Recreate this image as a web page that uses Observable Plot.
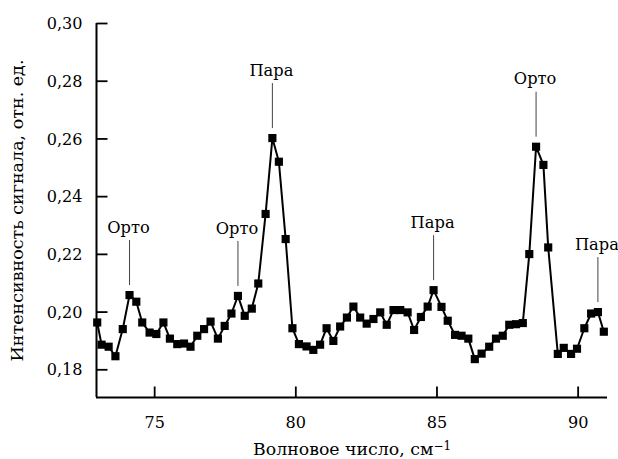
<!DOCTYPE html>
<html><head><meta charset="utf-8">
<script src="https://cdn.jsdelivr.net/npm/d3@7"></script>
<script src="https://cdn.jsdelivr.net/npm/@observablehq/plot@0.6"></script>
<style>
body{margin:0;background:#fff;}
#chart svg{display:block;}
#chart svg text {font-family: "DejaVu Serif", serif;}
</style></head><body><div id="chart"></div>
<script>
const wavenumber = [72.965,73.12,73.37,73.61,73.87,74.11,74.35,74.56,74.82,75.06,
  75.31,75.54,75.80,76.04,76.27,76.51,76.75,76.98,77.24,77.48,
  77.72,77.95,78.19,78.44,78.67,78.93,79.17,79.40,79.64,79.88,
  80.11,80.38,80.62,80.86,81.09,81.33,81.57,81.81,82.04,82.28,
  82.51,82.75,82.99,83.22,83.46,83.70,83.96,84.19,84.43,84.67,
  84.88,85.16,85.38,85.64,85.87,86.11,86.34,86.58,86.85,87.09,
  87.33,87.56,87.80,88.04,88.27,88.51,88.77,88.94,89.28,89.49,
  89.75,89.96,90.22,90.46,90.70,90.91];
const intensity = [0.1964,0.1887,0.1880,0.1847,0.1941,0.2059,0.2036,0.1964,0.1929,0.1924,
  0.1964,0.1908,0.1889,0.1891,0.1880,0.1918,0.1941,0.1967,0.1908,0.1952,
  0.1995,0.2056,0.1987,0.2012,0.2099,0.2340,0.2603,0.2521,0.2253,0.1944,
  0.1889,0.1881,0.1869,0.1887,0.1944,0.1900,0.1950,0.1981,0.2019,0.1981,
  0.1960,0.1976,0.1999,0.1956,0.2007,0.2007,0.1999,0.1938,0.1983,0.2019,
  0.2076,0.2018,0.1970,0.1921,0.1918,0.1908,0.1837,0.1856,0.1880,0.1908,
  0.1918,0.1956,0.1958,0.1962,0.2201,0.2573,0.2510,0.2224,0.1855,0.1876,
  0.1855,0.1873,0.1944,0.1995,0.2000,0.1932];
const peakIndex = [5, 21, 26, 50, 65, 74];
const peakLabel = ["Орто", "Орто", "Пара", "Пара", "Орто", "Пара"];
const xTicks = [75, 80, 85, 90];
const yTicks = [0.18, 0.20, 0.22, 0.24, 0.26, 0.28, 0.30];
const yTickLabels = ["0,18", "0,20", "0,22", "0,24", "0,26", "0,28", "0,30"];
const xTitle = "Волновое число, см";
const xTitleSup = "−1";
const yTitle = "Интенсивность сигнала, отн. ед.";

const xDomain = [72.94, 91.04];
const yDomain = [0.1704, 0.30];

const data = wavenumber.map((x, i) => ({x, y: intensity[i]}));
const ann = peakIndex.map((k, i) => ({x: wavenumber[k], y: intensity[k], label: peakLabel[i]}));
const lineShape = {draw(ctx, l) { ctx.moveTo(0, 0); ctx.lineTo(0, -l); }};

const chart = Plot.plot({
  width: 618, height: 459,
  marginLeft: 96, marginRight: 11, marginTop: 23, marginBottom: 62,
  style: "font-size: 17.5px; color: black; background: white;",
  x: {domain: xDomain},
  y: {domain: yDomain},
  marks: [
    Plot.axisX(xTicks, {tickSize: 0, tickPadding: 18, label: null}),
    Plot.axisY(yTicks, {tickSize: 0, tickPadding: 14, label: null, tickFormat: d => yTickLabels[yTicks.indexOf(d)]}),
    Plot.ruleX([xDomain[0]], {stroke: "black", strokeWidth: 2}),
    Plot.ruleY([yDomain[0]], {stroke: "black", strokeWidth: 2}),
    Plot.vector(yTicks, {y: d => d, frameAnchor: "left", rotate: 90, length: 11, anchor: "start", shape: lineShape, stroke: "black", strokeWidth: 1.8, fill: "none", strokeLinecap: "butt"}),
    Plot.vector(xTicks, {x: d => d, frameAnchor: "bottom", rotate: 0, length: 11, anchor: "start", shape: lineShape, stroke: "black", strokeWidth: 1.8, fill: "none", strokeLinecap: "butt"}),
    Plot.line(data, {x: "x", y: "y", stroke: "black", strokeWidth: 2}),
    Plot.dot(data, {x: "x", y: "y", symbol: "square", r: 4.6, fill: "black", stroke: "none"}),
    Plot.vector(ann, {x: "x", y: "y", length: 45, anchor: "start", dy: -10, shape: lineShape, stroke: "#444", strokeWidth: 1, fill: "none", strokeLinecap: "butt"}),
    Plot.text(ann, {x: "x", y: "y", text: "label", dy: -68, dx: -1, lineAnchor: "middle", textAnchor: "middle", fill: "black"}),
    Plot.text([xTitle], {text: d => d, frameAnchor: "bottom", dy: 52, lineAnchor: "middle", textAnchor: "middle", fill: "black"}),
    Plot.text([yTitle], {text: d => d, frameAnchor: "left", rotate: -90, dx: -79, lineAnchor: "middle", textAnchor: "middle", fill: "black"})
  ]
});
document.getElementById("chart").appendChild(chart);
const svg = d3.select(chart);
svg.selectAll("text").filter(function() { return this.textContent === xTitle; })
  .each(function() {
    d3.select(this).append("tspan").attr("dy", "-0.45em").attr("font-size", "12px").text(xTitleSup);
  });
// narrow the wide serif glyphs toward Times-like proportions (horizontal scale about each anchor)
const annSet = new Set(peakLabel);
svg.selectAll("text").each(function() {
  const tr = this.getAttribute("transform");
  if (tr == null) return;
  const t = this.textContent;
  const w = this.getComputedTextLength();
  let s;
  if (t === yTitle) s = 302 / w;
  else if (t === xTitle + xTitleSup) s = 198 / w;
  else if (annSet.has(t)) s = 0.93;
  else s = 0.92;
  this.setAttribute("transform", tr + ` scale(${s.toFixed(4)},1)`);
});
</script>
</body></html>
